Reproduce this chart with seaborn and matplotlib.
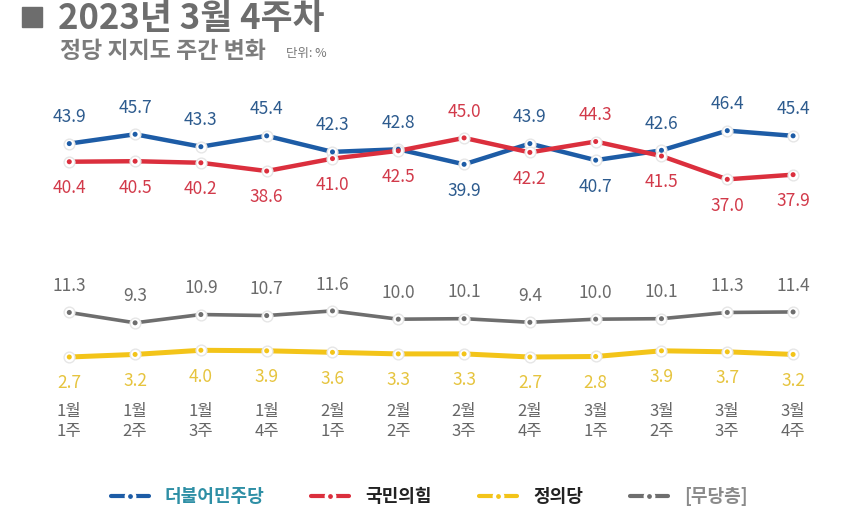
import matplotlib
matplotlib.use('Agg')
import matplotlib.pyplot as plt
from matplotlib.lines import Line2D
from matplotlib.patches import Rectangle
import numpy as np
import pandas as pd
import seaborn as sns

# data
weeks = ['1월\n1주', '1월\n2주', '1월\n3주', '1월\n4주', '2월\n1주', '2월\n2주',
         '2월\n3주', '2월\n4주', '3월\n1주', '3월\n2주', '3월\n3주', '3월\n4주']
minjoo = [43.9, 45.7, 43.3, 45.4, 42.3, 42.8, 39.9, 43.9, 40.7, 42.6, 46.4, 45.4]
ppp = [40.4, 40.5, 40.2, 38.6, 41.0, 42.5, 45.0, 42.2, 44.3, 41.5, 37.0, 37.9]
justice = [2.7, 3.2, 4.0, 3.9, 3.6, 3.3, 3.3, 2.7, 2.8, 3.9, 3.7, 3.2]
indep = [11.3, 9.3, 10.9, 10.7, 11.6, 10.0, 10.1, 9.4, 10.0, 10.1, 11.3, 11.4]
parties = ['더불어민주당', '국민의힘', '정의당', '[무당층]']

line_colors = ['#1d5ca6', '#db2f3d', '#f3c419', '#6e6e6e']
label_colors = ['#2d5b8e', '#d23a4a', '#e6c43e', '#6a6a6a']
legend_colors = ['#2e8fa5', '#222222', '#222222', '#8a8a8a']
line_widths = [3.2, 3.2, 3.6, 2.6]

sns.set_theme(style='white')
plt.rcParams['font.family'] = ['Noto Sans CJK KR', 'DejaVu Sans']

series = [minjoo, ppp, justice, indep]
df = pd.DataFrame({
    'week': np.tile(np.arange(len(weeks)), len(parties)),
    'value': np.concatenate(series),
    'party': np.repeat(parties, len(weeks)),
})

fig = plt.figure(figsize=(8.5, 5.24), dpi=100)
ax = fig.add_axes([0, 0.292, 1, 0.517])

for p, c, lw in zip(parties, line_colors, line_widths):
    sub = df[df.party == p]
    sns.lineplot(data=sub, x='week', y='value', color=c, linewidth=lw, ax=ax,
                 zorder=2, legend=False)
sns.scatterplot(data=df, x='week', y='value', color='white', edgecolor='#e6e6e6',
                linewidth=1.0, s=60, ax=ax, zorder=3, legend=False)
sns.scatterplot(data=df, x='week', y='value', hue='party',
                palette=dict(zip(parties, line_colors)), s=13, linewidth=0,
                ax=ax, zorder=4, legend=False)

# value labels
OFF = 19
for i in range(len(weeks)):
    up = 1 if minjoo[i] >= ppp[i] else -1
    offs = [up, -up, -1, 1]
    for k, vals in enumerate(series):
        ax.annotate(f'{vals[i]:.1f}', (i, vals[i]), xytext=(0, OFF * offs[k]),
                    textcoords='offset points', ha='center', va='center',
                    fontsize=12.5, color=label_colors[k])

ax.set_xlim(-1.053, 11.865)
ax.set_ylim(0, 52.3)
ax.set_xticks(range(len(weeks)))
ax.set_xticklabels(weeks, fontsize=12, color='#666666', linespacing=1.2,
                   fontweight='medium')
ax.tick_params(axis='x', length=0, pad=23)
ax.set_yticks([])
ax.set_xlabel('')
ax.set_ylabel('')
sns.despine(ax=ax, left=True, bottom=True)

# title
fig.patches.append(Rectangle((22 / 850, 1 - 27 / 524), 20 / 850, 20 / 524,
                             transform=fig.transFigure, color='#6d6d6d'))
fig.text(58 / 850, 1 - 19 / 524, '2023년 3월 4주차', fontsize=25, fontweight='bold',
         color='#6d6d6d', va='center', ha='left')
fig.text(60 / 850, 1 - 52 / 524, '정당 지지도 주간 변화', fontsize=16.5,
         fontweight='bold', color='#7c7c7c', va='center', ha='left')
fig.text(286 / 850, 1 - 54 / 524, '단위: %', fontsize=9, color='#777777',
         va='center', ha='left')

# legend
handles = [Line2D([0], [0], color=c, linewidth=3, marker='o', markersize=6,
                  markerfacecolor=c, markeredgecolor='white', markeredgewidth=2.5)
           for c in line_colors]
leg = fig.legend(handles, parties, loc='center', bbox_to_anchor=(0.505, 0.052),
                 ncol=4, frameon=False, handlelength=2.1, handletextpad=0.9,
                 columnspacing=2.6, prop={'size': 13, 'weight': 'bold'})
for t, c in zip(leg.get_texts(), legend_colors):
    t.set_color(c)

fig.savefig('out.png', dpi=100, facecolor='white')
